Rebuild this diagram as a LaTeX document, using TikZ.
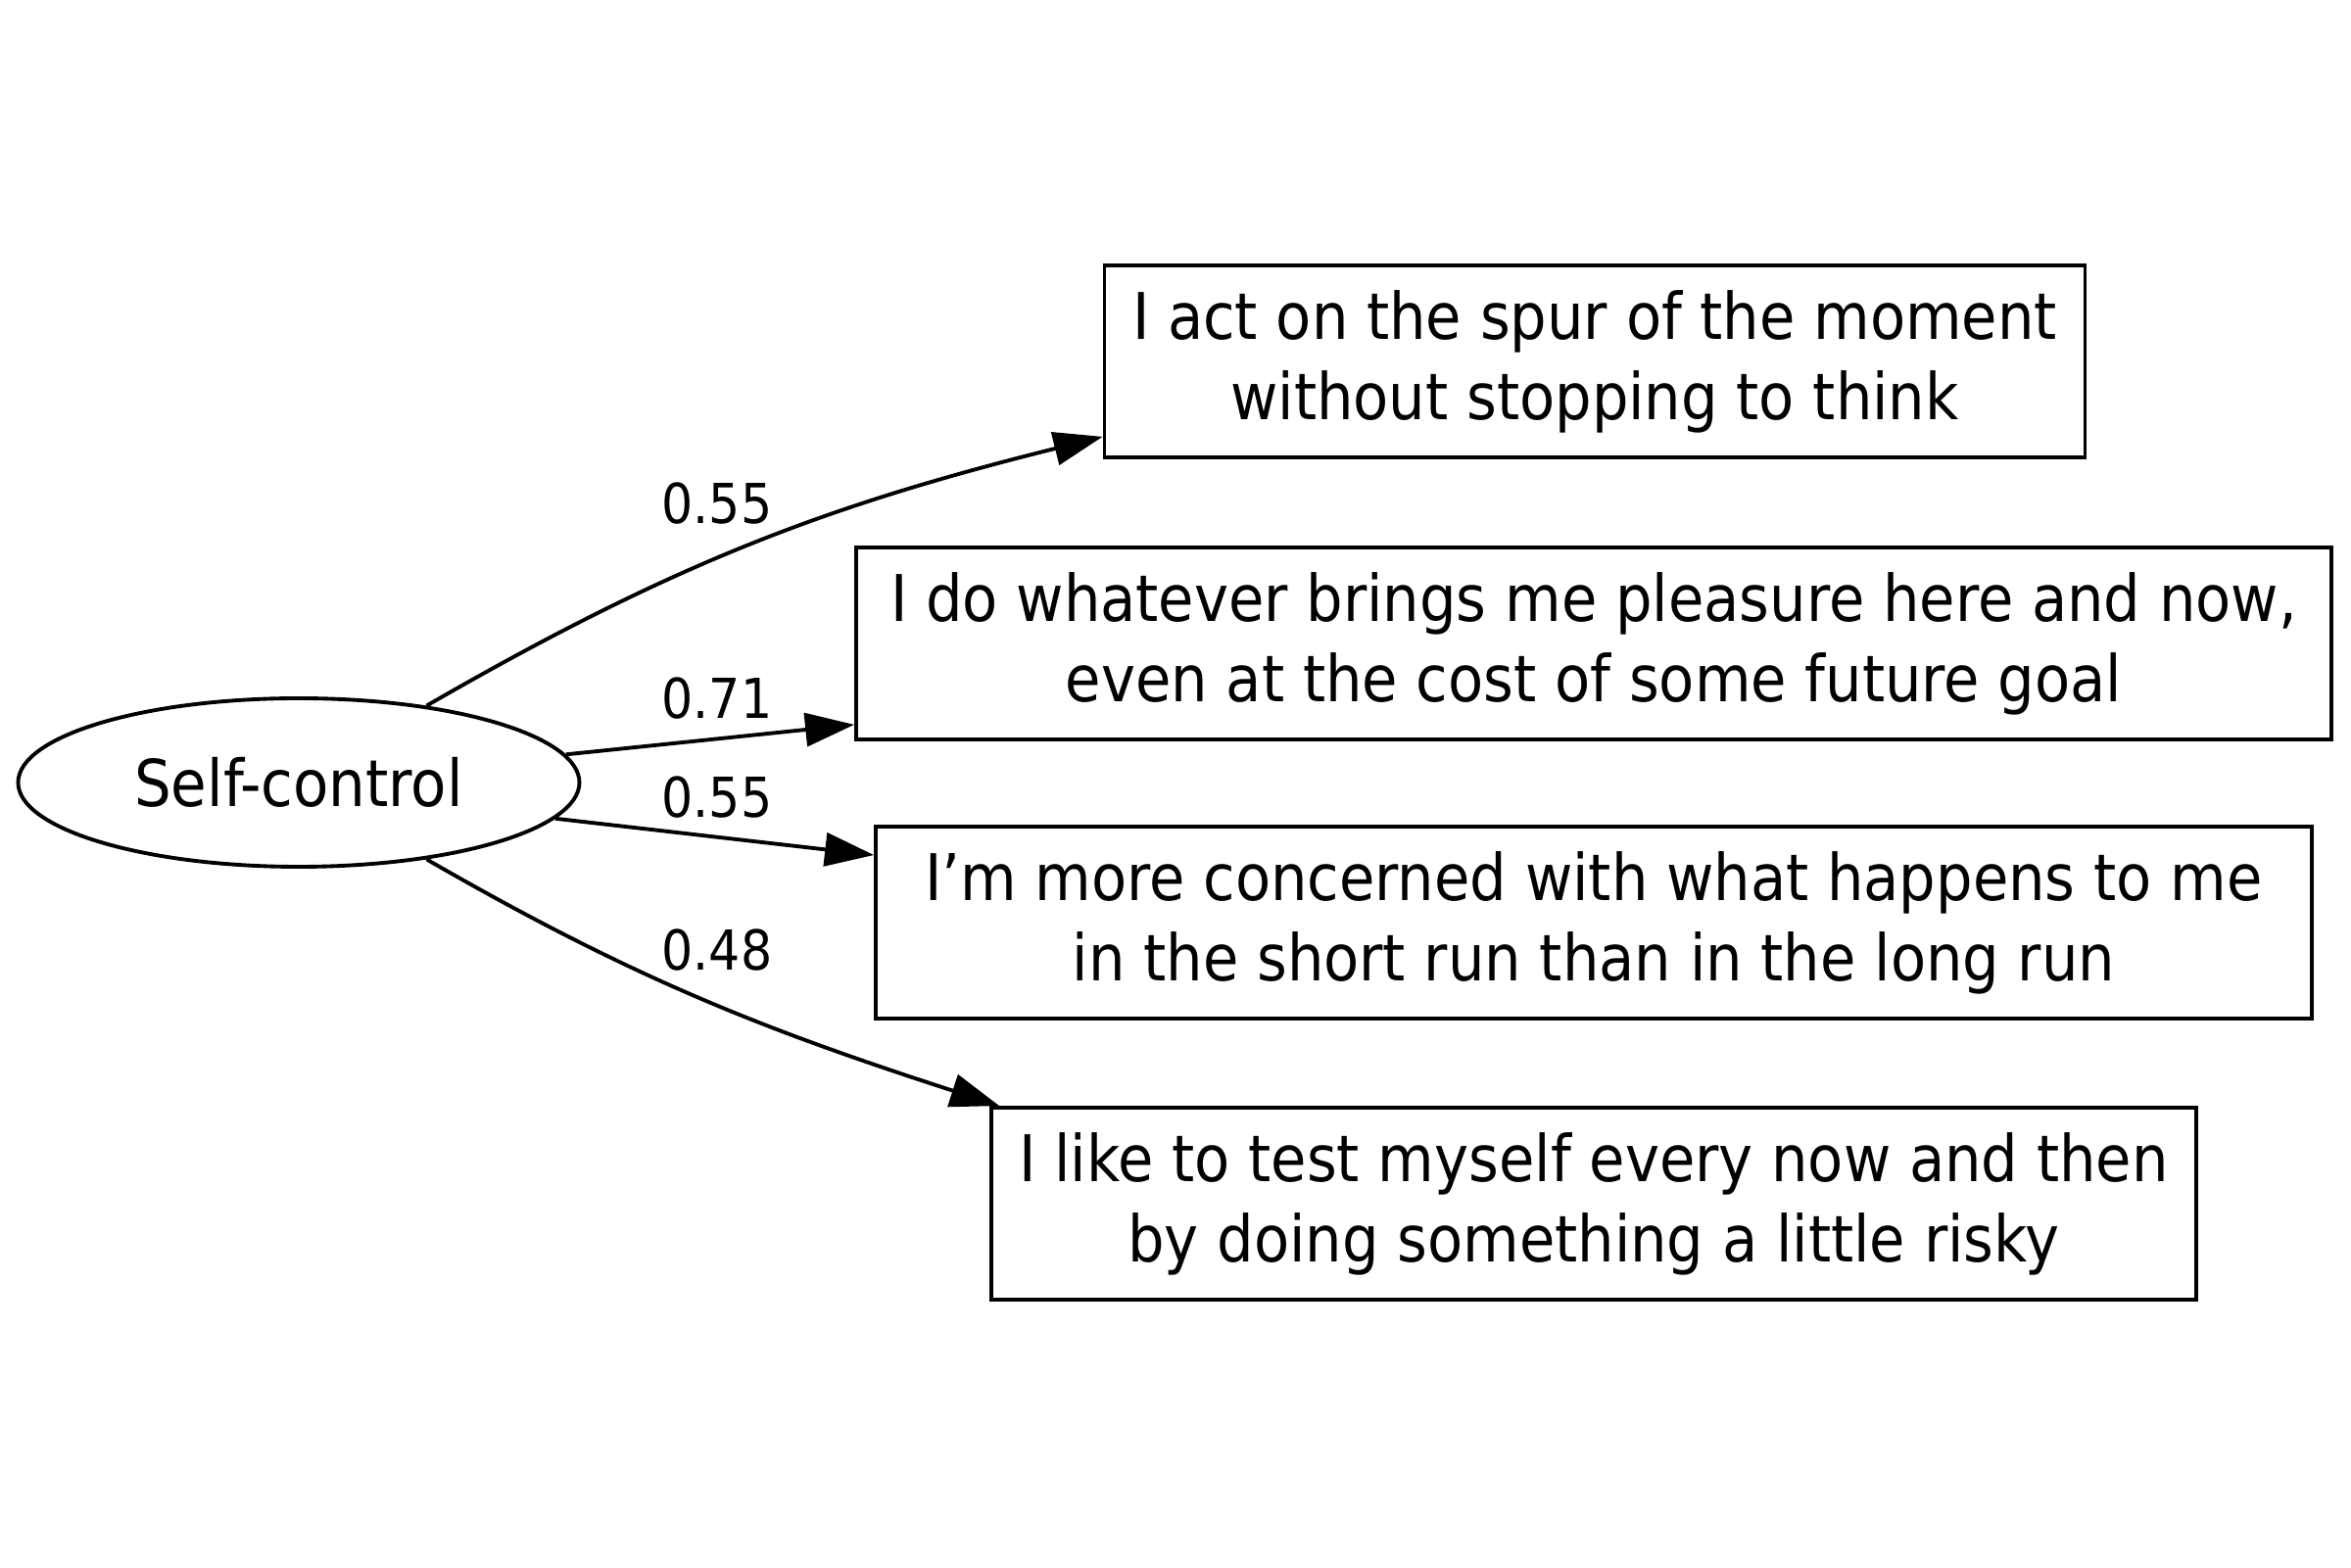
\documentclass[tikz,border=0pt]{standalone}
\usepackage{fontspec}
\setmainfont{DejaVu Sans Condensed}
\usepackage{tikz}
\usetikzlibrary{positioning, shapes.geometric, arrows.meta}

\begin{document}
\begin{tikzpicture}[x=1cm,y=1cm, latent/.style={shape=ellipse, draw, line width=1.1pt, minimum width=5.73cm, minimum height=1.72cm, inner sep=0pt, font=\fontsize{18.8}{23}\selectfont}, item/.style={shape=rectangle, draw, line width=1.1pt, align=center, minimum height=1.96cm, inner xsep=0.2cm, font=\fontsize{18.7}{23.3}\selectfont}, wlab/.style={inner sep=0pt, font=\fontsize{16}{19}\selectfont}, regr/.style={-{Triangle[length=0.5cm, width=0.34cm]}, line width=1.1pt}]
\useasboundingbox (0,0) rectangle (24,16);
\node[latent] (sc) at (3.05, 8.01) {Self-control};
\node[item, minimum width=10.01cm] (b1) at (16.28, 12.31) {I act on the spur of the moment\\without stopping to think};
\node[item, minimum width=15.06cm] (b2) at (16.27, 9.43) {I do whatever brings me pleasure here and now,\\even at the cost of some future goal};
\node[item, minimum width=14.66cm] (b3) at (16.27, 6.58) {I’m more concerned with what happens to me\\in the short run than in the long run};
\node[item, minimum width=12.30cm] (b4) at (16.27, 3.71) {I like to test myself every now and then\\by doing something a little risky};
% loadings
\draw[regr] (sc.31) to[out=30, in=194] ([yshift=0.23cm]b1.south west);
\draw[regr] (sc.6) -- ([yshift=0.17cm]b2.south west);
\draw[regr] (sc.-8) -- ([yshift=-0.31cm]b3.north west);
\draw[regr] (sc.-31) to[out=-30, in=162] ([xshift=0.10cm]b4.north west);
\foreach \n/\y/\w in {1/10.86/0.55, 2/8.87/0.71, 3/7.86/0.55, 4/6.30/0.48} {
	\node[wlab] (l \n) at (7.32, \y) {\w};
}
\end{tikzpicture}
\end{document}
